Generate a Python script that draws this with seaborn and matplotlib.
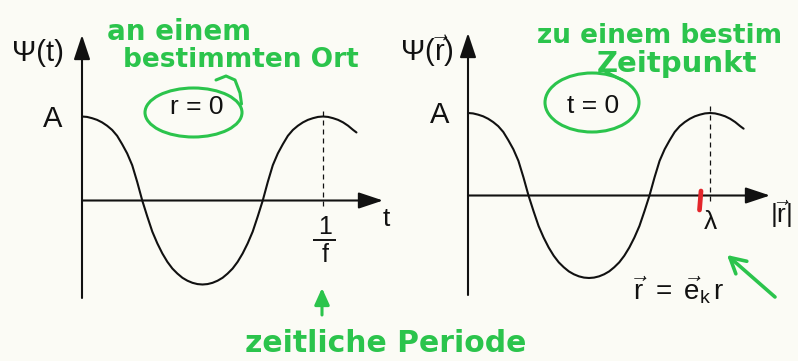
import matplotlib
matplotlib.use("Agg")
import matplotlib.pyplot as plt
from matplotlib.patches import Ellipse
import seaborn as sns
import pandas as pd

# ---- data -------------------------------------------------------------
# phase of the oscillation in degrees (360 = one period: 1/f or lambda)
phase_deg = [0, 7.5, 15, 22.5, 30, 37.5, 45, 52.5, 60, 67.5, 75, 82.5,
             90, 97.5, 105, 112.5, 120, 127.5, 135, 142.5, 150, 157.5, 165, 172.5,
             180, 187.5, 195, 202.5, 210, 217.5, 225, 232.5, 240, 247.5, 255, 262.5,
             270, 277.5, 285, 292.5, 300, 307.5, 315, 322.5, 330, 337.5, 345, 352.5,
             360, 367.5, 375, 382.5, 390, 397.5, 405, 410]
# wave amplitude in units of A
psi_values = [1.00, 0.995, 0.98, 0.96, 0.93, 0.89, 0.84, 0.77, 0.67, 0.56, 0.42, 0.22,
              0.00, -0.19, -0.37, -0.51, -0.63, -0.73, -0.81, -0.87, -0.92, -0.955, -0.98, -0.995,
              -1.00, -0.995, -0.98, -0.955, -0.92, -0.87, -0.81, -0.73, -0.63, -0.51, -0.37, -0.19,
              0.00, 0.22, 0.42, 0.56, 0.67, 0.77, 0.84, 0.89, 0.93, 0.96, 0.98, 0.995,
              1.00, 0.995, 0.98, 0.96, 0.93, 0.89, 0.84, 0.81]
period_deg = 360

panel_titles = ["Ψ(t)", r"$\Psi(\vec{\mathrm{r}})$"]
panel_conditions = ["r = 0", "t = 0"]
note_left = ["an einem", "bestimmten Ort"]
note_right = ["zu einem bestim", "Zeitpunkt"]
note_bottom = "zeitliche Periode"

# ---- style ------------------------------------------------------------
sns.set_theme(style="white")
plt.rcParams["font.family"] = ["Liberation Sans", "DejaVu Sans"]
plt.rcParams["mathtext.fontset"] = "custom"
plt.rcParams["mathtext.rm"] = "Liberation Sans"
plt.rcParams["mathtext.it"] = "Liberation Sans"
plt.rcParams["mathtext.bf"] = "Liberation Sans:bold"

PAPER = "#fbfbf5"
INK = "#111111"
GREEN = "#2bc44c"
RED = "#e3262b"

W, H = 798, 361
fig = plt.figure(figsize=(W / 100, H / 100), dpi=100, facecolor=PAPER)

df = pd.DataFrame({"phase": phase_deg, "psi": psi_values})

# panel geometry in pixels: origin x, origin y, px per period, px per A
panels = [
    dict(left=0, width=400, x0=82, y0=200.5, sx=241, sy=84, xend=383, ytop=35, ybot=298),
    dict(left=400, width=398, x0=468, y0=195.5, sx=242, sy=82.5, xend=770, ytop=33, ybot=295),
]

axes = []
for p in panels:
    ax = fig.add_axes([p["left"] / W, 0, p["width"] / W, 1])
    ax.set_facecolor("none")
    kx = period_deg / p["sx"]
    ax.set_xlim((p["left"] - p["x0"]) * kx, (p["left"] + p["width"] - p["x0"]) * kx)
    ax.set_ylim((p["y0"] - H) / p["sy"], p["y0"] / p["sy"])
    ax.axis("off")

    sns.lineplot(data=df, x="phase", y="psi", ax=ax, color=INK, lw=1.5,
                 sort=False, estimator=None, legend=False)

    # dashed marker at one full period
    ax.vlines(period_deg, -0.07, 1.11, colors=INK, lw=0.9, linestyles=(0, (4, 3.2)))

    # axes with arrow heads
    arrow = dict(arrowstyle="-|>,head_length=1.5,head_width=0.5", mutation_scale=10,
                 lw=1.5, color=INK, shrinkA=0, shrinkB=0)
    ax.annotate("", xy=(0, (p["y0"] - p["ytop"]) / p["sy"]),
                xytext=(0, (p["y0"] - p["ybot"]) / p["sy"]), arrowprops=arrow)
    ax.annotate("", xy=((p["xend"] - p["x0"]) * kx, 0), xytext=(0, 0), arrowprops=arrow)
    axes.append(ax)

# ---- overlay in pixel coordinates for labels and pen notes ------------
ov = fig.add_axes([0, 0, 1, 1])
ov.set_xlim(0, W)
ov.set_ylim(H, 0)
ov.axis("off")
ov.set_facecolor("none")

# printed labels
ov.text(37.5, 53, panel_titles[0], fontsize=21, ha="center", va="center", color=INK)
ov.text(427, 51, panel_titles[1], fontsize=21, ha="center", va="center", color=INK)
ov.text(53, 119, "A", fontsize=21, ha="center", va="center", color=INK)
ov.text(440, 115, "A", fontsize=21, ha="center", va="center", color=INK)
ov.text(197, 107.5, panel_conditions[0], fontsize=19, ha="center", va="center", color=INK)
ov.text(593.5, 106, panel_conditions[1], fontsize=19, ha="center", va="center", color=INK)

ov.text(325, 227, "1", fontsize=18, ha="center", va="center", color=INK)
ov.plot([313, 336], [239.5, 239.5], color=INK, lw=1.4, solid_capstyle="butt")
ov.text(325, 255, "f", fontsize=18, ha="center", va="center", color=INK)
ov.text(386, 219, "t", fontsize=19, ha="center", va="center", color=INK)

ov.text(710, 222, r"$\lambda$", fontsize=19, ha="center", va="center", color=INK)
ov.text(770, 214, r"$|\vec{\mathrm{r}}|$", fontsize=19, ha="left", va="center", color=INK)
ov.text(633, 290, r"$\vec{\mathrm{r}}\ =\ \vec{\mathrm{e}}_{\mathrm{k}}\,\mathrm{r}$",
        fontsize=20, ha="left", va="center", color=INK)

# pen notes
hand = dict(color=GREEN, fontweight="bold", family="DejaVu Sans")
ov.text(107, 40, note_left[0], ha="left", va="baseline", fontsize=20, **hand)
ov.text(123, 67, note_left[1], ha="left", va="baseline", fontsize=19, **hand)
ov.text(537, 43, note_right[0], ha="left", va="baseline", fontsize=19, **hand)
ov.text(597, 72, note_right[1], ha="left", va="baseline", fontsize=21, **hand)
ov.text(245, 352, note_bottom, ha="left", va="baseline", fontsize=21.5, **hand)

ov.add_patch(Ellipse((193.5, 112.5), 97, 49, fill=False, ec=GREEN, lw=2.2))
ov.plot([216, 226, 235, 240, 241.5], [80, 76, 80, 93, 104], color=GREEN, lw=2.2)
ov.add_patch(Ellipse((592, 102.5), 94, 59, fill=False, ec=GREEN, lw=2.2))
ov.plot([622, 612, 603], [80, 75, 70], color=GREEN, lw=2.2)

ov.annotate("", xy=(322, 288), xytext=(322, 315),
            arrowprops=dict(arrowstyle="-|>,head_length=1.0,head_width=0.45",
                            mutation_scale=10, lw=2.2, color=GREEN, shrinkA=0, shrinkB=0))
ov.annotate("", xy=(727, 255), xytext=(775, 297),
            arrowprops=dict(arrowstyle="->,head_length=1.1,head_width=0.6",
                            mutation_scale=10, lw=2.6, color=GREEN, shrinkA=0, shrinkB=0))

# red mark on the wave axis
ov.plot([701, 699.5], [191, 210], color=RED, lw=3.4, solid_capstyle="round")

fig.savefig("out.png", dpi=100, facecolor=PAPER)
